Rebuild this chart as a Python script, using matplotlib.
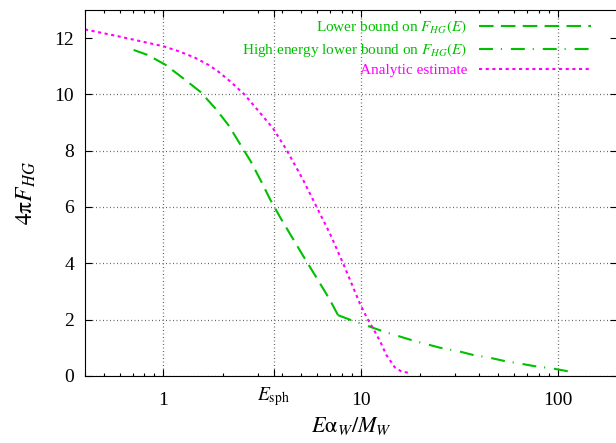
import matplotlib
matplotlib.use('Agg')
import matplotlib.pyplot as plt
from matplotlib.ticker import FixedLocator, LogLocator, NullFormatter
from matplotlib.transforms import ScaledTranslation

plt.rcParams['font.family'] = ['Liberation Serif', 'DejaVu Serif']
plt.rcParams['mathtext.fontset'] = 'stix'

GREEN = '#00c000'
MAGENTA = '#ff00ff'

E_SPH = 3.62

# lower bound on F_HG(E) (dashed)
lower_x = [0.706, 0.826, 1.02, 1.26, 1.54, 1.84, 2.14, 2.43, 2.77, 3.13,
           3.48, 3.93, 4.50, 5.10, 5.85, 6.70, 7.05, 7.59, 7.68]
lower_y = [11.58, 11.41, 11.06, 10.57, 10.09, 9.49, 8.90, 8.27, 7.62, 6.91,
           6.26, 5.60, 4.91, 4.27, 3.59, 2.91, 2.64, 2.22, 2.155]

# high energy lower bound (dash-dot)
high_x = [7.68, 8.05, 9.33, 11.2, 13.1, 18.5, 25.2, 31.9, 37.2, 45.3,
          53.3, 64.8, 76.6, 92.4, 108.9, 121.0]
high_y = [2.155, 2.10, 1.93, 1.74, 1.57, 1.25, 1.00, 0.86, 0.74, 0.64,
          0.53, 0.43, 0.34, 0.27, 0.18, 0.11]

# analytic estimate (dotted)
ana_x = [0.4, 0.586, 1.0, 1.2, 1.44, 1.7, 1.89, 2.2, 2.58, 3.0, 3.59, 4.20,
         5.10, 5.96, 6.97, 8.14, 8.98, 9.89, 10.78, 11.68, 12.58, 13.5, 14.9,
         16.1, 17.4]
ana_y = [12.31, 12.07, 11.71, 11.53, 11.31, 11.04, 10.82, 10.44, 9.99, 9.45,
         8.80, 8.04, 6.97, 6.02, 5.07, 4.00, 3.29, 2.58, 2.05, 1.63, 1.21,
         0.74, 0.30, 0.15, 0.11]

xticks = [1, E_SPH, 10, 100]
xtick_labels = ['1', r'$E_{\rm sph}$', '10', '100']
yticks = [0, 2, 4, 6, 8, 10, 12]

fig = plt.figure(figsize=(6.16, 4.43), dpi=100)
W, H = 616, 443
ax = fig.add_axes([85 / W, (H - 375.8) / H, (617.2 - 85) / W, (375.8 - 10) / H])

ax.plot(lower_x, lower_y, color=GREEN, lw=1.5, ls=(0, (7, 3.5)),
        label=r'Lower bound on $F_{HG}(E)$')
ax.plot(high_x, high_y, color=GREEN, lw=1.5, ls=(0, (6.7, 3.8, 0.5, 4.3)),
        label=r'High energy lower bound on $F_{HG}(E)$')
ax.plot(ana_x, ana_y, color=MAGENTA, lw=1.5, ls=(0, (1.5, 1.7)),
        label='Analytic estimate')

ax.set_xscale('log')
ax.set_xlim(0.4, 200)
ax.set_ylim(0, 13)

ax.xaxis.set_major_locator(FixedLocator(xticks))
ax.set_xticklabels(xtick_labels)
ax.xaxis.set_minor_locator(LogLocator(base=10, subs=range(2, 10)))
ax.xaxis.set_minor_formatter(NullFormatter())
ax.set_yticks(yticks)

ax.tick_params(which='both', direction='in', top=True, right=True,
               labelsize=14, width=0.8)
ax.tick_params(which='major', length=5)
ax.tick_params(which='minor', length=2.5)
ax.tick_params(axis='x', pad=12)
ax.tick_params(axis='y', pad=8)
for s in ax.spines.values():
    s.set_linewidth(0.8)

# E_sph label sits a bit higher than the numbers
lbl = ax.get_xticklabels()[1]
lbl.set_transform(lbl.get_transform() + ScaledTranslation(0, 7 / 100, fig.dpi_scale_trans))

ax.grid(True, which='major', color='0.4', lw=0.9, ls=(0, (0.8, 2)))
ax.get_ygridlines()[-1].set_visible(False)

ax.set_xlabel(r'$E\mathrm{\alpha}_W/M_W$', fontsize=16)
ax.set_ylabel(r'$4\mathrm{\pi} F_{HG}$', fontsize=17)
ax.xaxis.set_label_coords(0.5, -0.107)
ax.yaxis.set_label_coords(-0.088, 0.5)

ax.legend(loc='upper right', bbox_to_anchor=(591 / W, (H - 19) / H),
          bbox_transform=fig.transFigure, frameon=False, markerfirst=False,
          labelcolor='linecolor', fontsize=11, handlelength=7.3,
          handletextpad=0.8, labelspacing=0.3, borderpad=0, borderaxespad=0)

fig.savefig('out.png', dpi=100)
